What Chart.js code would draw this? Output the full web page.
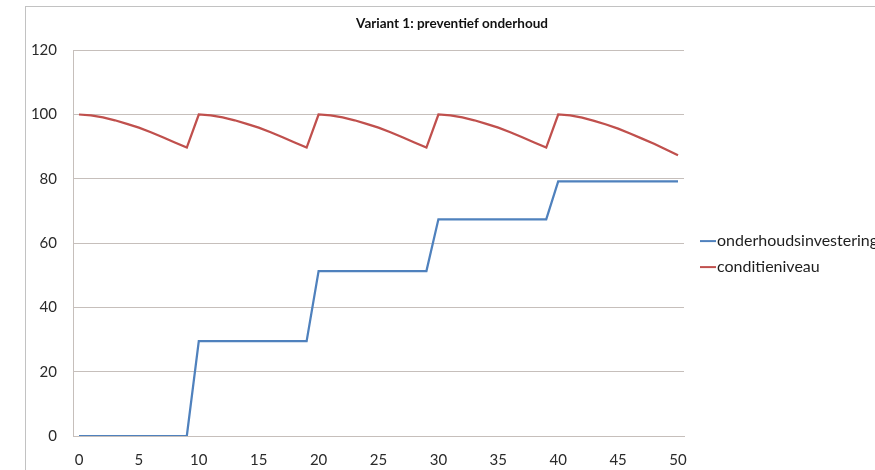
<!DOCTYPE html>
<html>
<head>
<meta charset="utf-8">
<title>Variant 1: preventief onderhoud</title>
<script src="https://cdn.jsdelivr.net/npm/chart.js@4/dist/chart.umd.min.js"></script>
<style>
  html, body { margin: 0; padding: 0; background: #ffffff; overflow: hidden; }
  body { width: 875px; height: 470px; position: relative; }
  #frame {
    position: absolute; left: 25px; top: 6px;
    width: 860px; height: 480px;
    border-top: 1px solid #c2c2c2; border-left: 1px solid #c2c2c2;
    background: #ffffff;
  }
  #wrap { position: absolute; left: 0; top: 0; width: 852px; height: 470px; }
</style>
</head>
<body>
<div id="frame"><div id="wrap"><canvas id="chart"></canvas></div></div>
<script>
// Jaren (horizontale as)
const jaren = [
  0, 1, 2, 3, 4, 5, 6, 7, 8, 9,
  10, 11, 12, 13, 14, 15, 16, 17, 18, 19,
  20, 21, 22, 23, 24, 25, 26, 27, 28, 29,
  30, 31, 32, 33, 34, 35, 36, 37, 38, 39,
  40, 41, 42, 43, 44, 45, 46, 47, 48, 49, 50
];

// Cumulatieve onderhoudsinvestering per jaar
const onderhoudsinvestering = [
  0, 0, 0, 0, 0, 0, 0, 0, 0, 0,
  29.5, 29.5, 29.5, 29.5, 29.5, 29.5, 29.5, 29.5, 29.5, 29.5,
  51.3, 51.3, 51.3, 51.3, 51.3, 51.3, 51.3, 51.3, 51.3, 51.3,
  67.4, 67.4, 67.4, 67.4, 67.4, 67.4, 67.4, 67.4, 67.4, 67.4,
  79.2, 79.2, 79.2, 79.2, 79.2, 79.2, 79.2, 79.2, 79.2, 79.2, 79.2
];

// Conditieniveau per jaar (herstel naar 100 na elk onderhoud)
const conditieniveau = [
  100, 99.7, 99.1, 98.2, 97.1, 95.9, 94.5, 92.9, 91.3, 89.7,
  100, 99.7, 99.1, 98.2, 97.1, 95.9, 94.5, 92.9, 91.3, 89.7,
  100, 99.7, 99.1, 98.2, 97.1, 95.9, 94.5, 92.9, 91.3, 89.7,
  100, 99.7, 99.1, 98.2, 97.1, 95.9, 94.5, 92.9, 91.3, 89.7,
  100, 99.7, 99.0, 98.0, 96.9, 95.6, 94.1, 92.5, 90.9, 89.1, 87.3
];

// Labels op de horizontale as (om de 5 jaar)
const xAsLabels = ['0', '5', '10', '15', '20', '25', '30', '35', '40', '45', '50'];
// Verticale as
const yMin = 0, yMax = 120, yStap = 20;

const fontFamily = 'Lato, "Open Sans", sans-serif';
const gridKleur = '#c6bfbb';
const tekstKleur = '#2a2a2a';

// Legenda rechts naast het plotgebied
const zijLegenda = {
  id: 'zijLegenda',
  afterDraw(chart) {
    const { ctx, chartArea } = chart;
    const x = chartArea.right + 16;
    let y = (chartArea.top + chartArea.bottom) / 2 - 2;
    ctx.save();
    ctx.font = '16px ' + fontFamily;
    ctx.textBaseline = 'middle';
    ctx.textAlign = 'left';
    chart.data.datasets.forEach(ds => {
      ctx.strokeStyle = ds.borderColor;
      ctx.lineWidth = 2;
      ctx.beginPath();
      ctx.moveTo(x, y);
      ctx.lineTo(x + 16, y);
      ctx.stroke();
      ctx.fillStyle = '#1e1e1e';
      ctx.fillText(ds.label, x + 17, y);
      y += 26;
    });
    ctx.restore();
  }
};

new Chart(document.getElementById('chart'), {
  type: 'line',
  data: {
    labels: jaren.map(String),
    datasets: [
      {
        label: 'onderhoudsinvestering',
        data: onderhoudsinvestering,
        borderColor: '#4f81bd',
        backgroundColor: '#4f81bd',
        borderWidth: 2.25,
        pointRadius: 0,
        tension: 0
      },
      {
        label: 'conditieniveau',
        data: conditieniveau,
        borderColor: '#c0504d',
        backgroundColor: '#c0504d',
        borderWidth: 2.25,
        pointRadius: 0,
        tension: 0
      }
    ]
  },
  options: {
    responsive: true,
    maintainAspectRatio: false,
    animation: false,
    layout: { padding: 0 },
    plugins: {
      legend: { display: false },
      tooltip: { enabled: false },
      title: {
        display: true,
        text: 'Variant 1: preventief onderhoud',
        color: '#111111',
        font: { family: fontFamily, size: 13.5, weight: 'bold' },
        padding: { top: 9, bottom: 18 }
      }
    },
    scales: {
      x: {
        type: 'category',
        offset: true,
        grid: { display: false, drawTicks: false },
        border: { display: true, color: gridKleur, width: 1 },
        ticks: {
          autoSkip: false,
          maxRotation: 0,
          padding: 15,
          color: tekstKleur,
          font: { family: fontFamily, size: 15 },
          callback(value) {
            const lbl = this.getLabelForValue(value);
            return xAsLabels.includes(lbl) ? lbl : '';
          }
        },
        afterFit(scale) { scale.height = 41; }
      },
      y: {
        min: yMin,
        max: yMax,
        grid: { color: gridKleur, lineWidth: 1, drawTicks: false },
        border: { display: true, color: gridKleur, width: 1 },
        ticks: {
          stepSize: yStap,
          padding: 16,
          color: tekstKleur,
          font: { family: fontFamily, size: 15 }
        },
        afterFit(scale) { scale.width = 47; }
      },
      // lege as rechts: ruimte voor de legenda
      legendaRuimte: {
        type: 'linear',
        position: 'right',
        display: true,
        grid: { display: false, drawTicks: false },
        border: { display: false },
        ticks: { display: false },
        afterFit(scale) { scale.width = 194; }
      }
    }
  },
  plugins: [zijLegenda]
});
</script>
</body>
</html>
